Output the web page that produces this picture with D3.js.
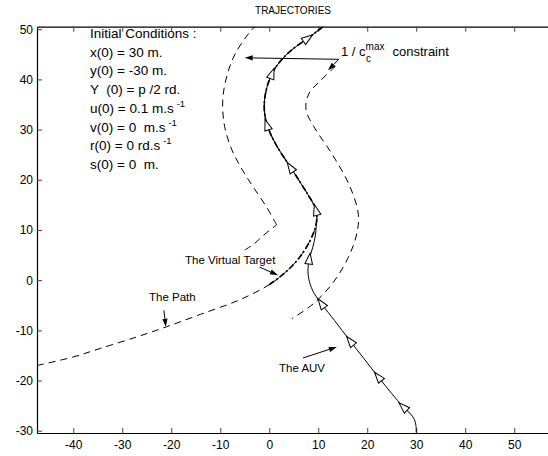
<!DOCTYPE html>
<html><head><meta charset="utf-8">
<script src="https://cdn.jsdelivr.net/npm/d3@7"></script>
<style>
body{margin:0;background:#fff}
svg{display:block;font-family:"Liberation Sans",Arial,Helvetica,sans-serif}
text{white-space:pre}
</style>
</head><body>
<svg id="chart" width="548" height="456"></svg>
<script>
// ---------- data ----------
const xTicks = [-40,-30,-20,-10,0,10,20,30,40,50];
const yTicks = [-30,-20,-10,0,10,20,30,40,50];

// the reference path (dashed)
const pathPts = [[-47.4,-17],[-40,-15.3],[-34.5,-13.6],[-27,-11.3],[-21,-9.3],[-14,-6.8],[-6,-3.9],[0,-0.9],[3,1.3],[6,4.3],[8.3,7.8],[9.5,10.8],[9.7,13],[9.2,14.8],[7.8,17.2],[5.8,20.3],[3.8,23.3],[1.8,26.3],[0.2,29.3],[-0.8,32.3],[-1,35.3],[-0.5,38.3],[0.6,41.2],[2.5,43.9],[5,46.2],[7.9,48.2],[10.3,50],[12,51.2]];
// the virtual target trace (dash-dot, along the path)
const targetPts = [[0,-0.9],[3,1.3],[6,4.3],[8.3,7.8],[9.5,10.8],[9.7,13],[9.2,14.8],[7.8,17.2],[5.8,20.3],[3.8,23.3],[1.8,26.3],[0.2,29.3],[-0.8,32.3],[-1,35.3],[-0.5,38.3],[0.6,41.2],[2.5,43.9],[5,46.2],[7.9,48.2],[10.3,50],[12,51.2]];
// the AUV trajectory (solid)
const auvPts = [[30,-30.4],[29.95,-29],[29.6,-27.7],[28.7,-26.5],[27.3,-25.2],[25,-22.6],[22.2,-19.2],[19.3,-15.6],[16.5,-12.1],[13.3,-8],[10.8,-4.9],[9.2,-2.7],[8.2,-0.3],[7.9,2],[8.2,4.3],[8.9,6.6],[9.4,8.8],[9.6,10.9],[9.7,13],[9.2,14.8],[7.8,17.2],[5.8,20.3],[3.8,23.3],[1.8,26.3],[0.2,29.3],[-0.8,32.3],[-1,35.3],[-0.5,38.3],[0.6,41.2],[2.5,43.9],[5,46.2],[7.9,48.2],[10.3,50],[12,51.2]];
// open heading markers on the AUV trajectory
const auvMarks = [[27.3,-25.2],[22.2,-19.2],[16.5,-12.1],[10.6,-4.6],[8.2,4.3],[9.5,14],[4.3,22.5],[-0.5,31],[0.6,41.2],[7.9,48.2]];
// 1/c_max constraint boundaries (dashed)
const leftBoundLower = [[-5,6],[-3,7.3],[-1.1,9],[1.5,11]];
const leftBoundUpper = [[1.5,11],[-0.5,14.5],[-3.3,18.6],[-5.5,22],[-7.6,25.9],[-9.1,30.6],[-9.5,35.7],[-8.7,40.5],[-6.9,45.2],[-3.9,49.5],[-2.5,51]];
const rightBound = [[13.5,42.6],[10.3,39.6],[8.1,37.2],[7.5,34],[9.1,30.6],[12.9,25],[16.4,18.8],[18.2,13],[17.7,8.6],[16,4.3],[13.1,-0.4],[9,-4.7],[4.6,-7.7]];
// annotation arrows: [from, to] in data units
const arrowSegs = [
  [[14.2,44],[-5,44.3]],
  [[14.2,44],[12,41.8]],
  [[-2,2.6],[1.8,1.0]],
  [[-21.5,-6],[-21.1,-9.3]],
  [[6.9,-15.5],[13.8,-13.3]]
];
const conditionLines = ["Initial Conditions :","x(0) = 30 m.","y(0) = -30 m.","Y  (0) = p /2 rd.","u(0) = 0.1 m.s","v(0) = 0  m.s","r(0) = 0 rd.s","s(0) = 0  m."];
const conditionSups  = ["","","","","-1","-1","-1",""];

// ---------- layout ----------
const svg = d3.select("#chart");
const L = 37, R = 549, T = 26.7, B = 433;
const x = d3.scaleLinear().domain([-47.4,57.1]).range([L,R]);
const y = d3.scaleLinear().domain([-30.45,50.5]).range([B,T]);

svg.append("defs").append("clipPath").attr("id","clip")
  .append("rect").attr("x",L).attr("y",T).attr("width",R-L).attr("height",B-T);

// title
svg.append("text").attr("x",293).attr("y",14).attr("text-anchor","middle")
  .attr("font-size",10).text("TRAJECTORIES");

// axes
const fmt = d => String(d);
const ax = svg.append("g").attr("class","axes");
ax.append("g").attr("transform",`translate(0,${B})`)
  .call(d3.axisBottom(x).tickValues(xTicks).tickFormat(fmt).tickSizeInner(-5).tickSizeOuter(0).tickPadding(7));
ax.append("g").attr("transform",`translate(0,${T})`)
  .call(d3.axisTop(x).tickValues(xTicks).tickFormat("").tickSizeInner(-5).tickSizeOuter(0));
ax.append("g").attr("transform",`translate(${L},0)`)
  .call(d3.axisLeft(y).tickValues(yTicks).tickFormat(fmt).tickSizeInner(-5).tickSizeOuter(0).tickPadding(4));
ax.selectAll("text").attr("font-size",12).attr("font-family","'Liberation Sans',Arial,sans-serif").attr("fill","#000");
ax.selectAll("path.domain").attr("stroke","#000").attr("stroke-width",1.2);
ax.selectAll(".tick line").attr("stroke","#444");

// curves
const line = d3.line().x(d=>x(d[0])).y(d=>y(d[1])).curve(d3.curveCatmullRom.alpha(0.5));
const plot = svg.append("g").attr("clip-path","url(#clip)");
const dashed = "7,5";
[pathPts, leftBoundLower, leftBoundUpper, rightBound].forEach(pts=>{
  plot.append("path").attr("d",line(pts)).attr("fill","none")
    .attr("stroke","#000").attr("stroke-width",1).attr("stroke-dasharray",dashed);
});
plot.append("path").attr("d",line(auvPts)).attr("fill","none")
  .attr("stroke","#000").attr("stroke-width",1);
plot.append("path").attr("d",line(targetPts)).attr("fill","none")
  .attr("stroke","#000").attr("stroke-width",1.7).attr("stroke-dasharray","6,2.5,1.8,2.5");

// heading markers
function headingAt(p){
  const px=[x(p[0]),y(p[1])];
  let best=Infinity, ang=0;
  for(let i=0;i<auvPts.length-1;i++){
    const a=[x(auvPts[i][0]),y(auvPts[i][1])], b=[x(auvPts[i+1][0]),y(auvPts[i+1][1])];
    const dx=b[0]-a[0], dy=b[1]-a[1];
    const len2=dx*dx+dy*dy||1;
    let t=((px[0]-a[0])*dx+(px[1]-a[1])*dy)/len2; t=Math.max(0,Math.min(1,t));
    const qx=a[0]+t*dx-px[0], qy=a[1]+t*dy-px[1];
    const d=qx*qx+qy*qy;
    if(d<best){best=d; ang=Math.atan2(dy,dx);}
  }
  return ang*180/Math.PI;
}
plot.selectAll("path.mark").data(auvMarks).join("path").attr("class","mark")
  .attr("d","M5.5,0 L-5.5,-3.8 L-5.5,3.8 Z")
  .attr("transform",d=>`translate(${x(d[0])},${y(d[1])}) rotate(${headingAt(d)})`)
  .attr("fill","#fff").attr("stroke","#000").attr("stroke-width",1);

// annotation arrows
const ann = svg.append("g");
arrowSegs.forEach(([f,t])=>{
  const x1=x(f[0]), y1=y(f[1]), x2=x(t[0]), y2=y(t[1]);
  const a=Math.atan2(y2-y1,x2-x1);
  const hl=8, hw=2.6;
  const bx=x2-hl*Math.cos(a), by=y2-hl*Math.sin(a);
  ann.append("line").attr("x1",x1).attr("y1",y1).attr("x2",bx).attr("y2",by)
    .attr("stroke","#000").attr("stroke-width",1);
  ann.append("path").attr("d",`M${x2},${y2} L${bx-hw*Math.sin(a)},${by+hw*Math.cos(a)} L${bx+hw*Math.sin(a)},${by-hw*Math.cos(a)} Z`)
    .attr("fill","#000");
});

// labels
const lab = svg.append("g").attr("font-size",11.5).attr("fill","#000");
lab.append("text").attr("x",185).attr("y",264).text("The Virtual Target");
lab.append("text").attr("x",149).attr("y",301).text("The Path");
lab.append("text").attr("x",279).attr("y",372).text("The AUV");
const ct = lab.append("text").attr("x",341).attr("y",56).attr("font-size",13);
ct.append("tspan").text("1 / c");
ct.append("tspan").attr("font-size",10).attr("dy",-6).text("max");
ct.append("tspan").attr("font-size",13).attr("dy",6).attr("dx",8).text("constraint");
lab.append("text").attr("x",366).attr("y",62).attr("font-size",10).text("c");

// initial conditions
const ic = svg.append("g").attr("font-size",13.5).attr("fill","#000");
conditionLines.forEach((s,i)=>{
  const t = ic.append("text").attr("x",90).attr("y",38 + i*18.7);
  t.append("tspan").text(s);
  if(conditionSups[i]) t.append("tspan").attr("font-size",9.5).attr("dx",3).attr("dy",-6).text(conditionSups[i]);
});
</script>
</body></html>
